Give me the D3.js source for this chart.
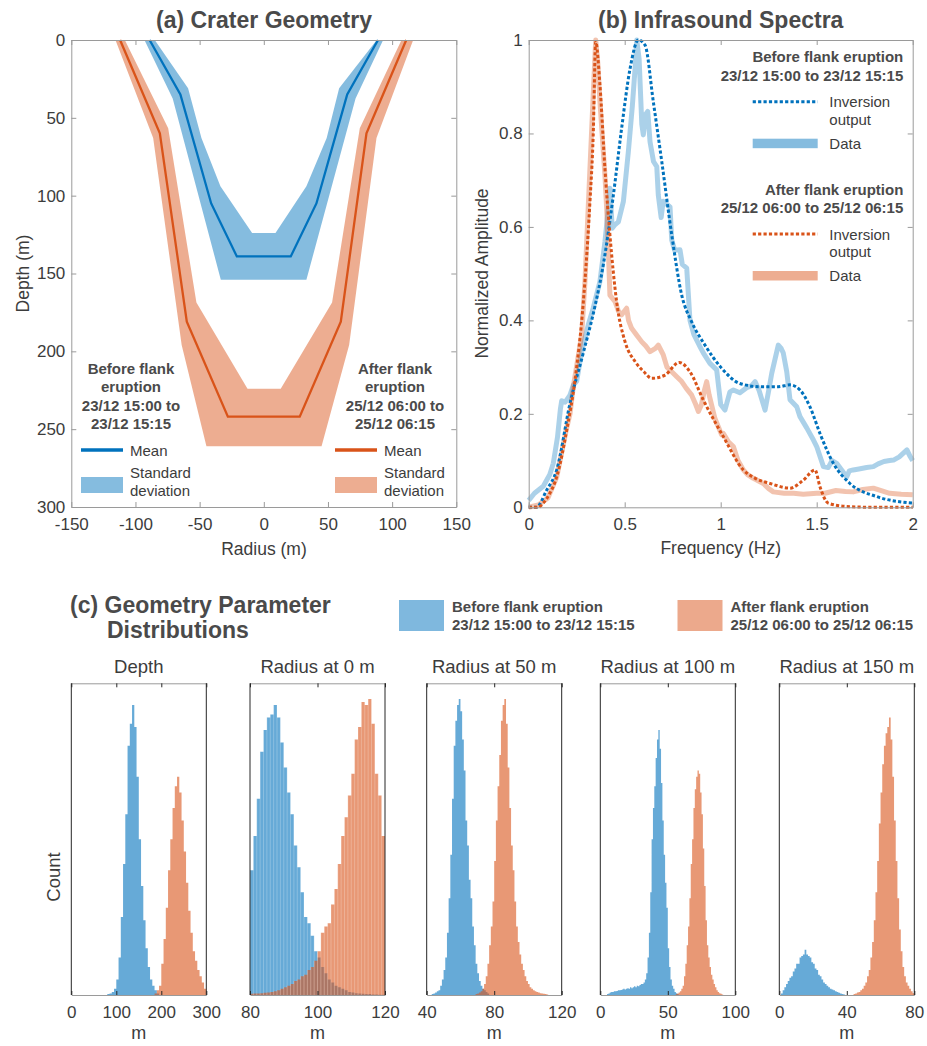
<!DOCTYPE html>
<html>
<head>
<meta charset="utf-8">
<script src="https://cdn.jsdelivr.net/npm/d3@7"></script>
<style>
  body { margin: 0; background: #fff; }
  svg { display: block; font-family: "Liberation Sans", Arial, Helvetica, sans-serif; }
</style>
</head>
<body>
<script>
// ---------- (a) crater geometry: radius (m) / depth (m) ----------
var meanBeforeR = [-89, -65, -41, -21, 21, 41, 65, 89];
var meanBeforeD = [0, 35, 105, 139, 139, 105, 35, 0];
var meanAfterR = [-112, -81, -60, -28, 28, 60, 80, 111];
var meanAfterD = [0, 60, 181, 242, 242, 181, 60, 0];
// standard deviation outlines: outer edge, then inner edge back to start
var sdBeforeR = [-93, -71, -33.5, 33.2, 71.5, 93, 88, 58.7, 49, 33.2, 9.1, -9.1, -33.8, -48.6, -59, -85];
var sdBeforeD = [0, 37.5, 154, 154, 37.5, 0, 0, 31, 63, 94, 124, 124, 94, 63, 31, 0];
var sdAfterR = [-115.6, -86.2, -64, -44.7, 45, 66.5, 87.8, 116.4, 107.3, 74.8, 53.2, 13.2, -12.7, -52.5, -74.5, -108.3];
var sdAfterD = [0, 63, 196, 261, 261, 196, 63, 0, 0, 56.7, 168.7, 224, 224, 168.7, 56.7, 0];

// ---------- (b) infrasound spectra ----------
var invBeforeF = [0, 0.04, 0.094, 0.146, 0.215, 0.284, 0.345, 0.389, 0.441, 0.484, 0.528, 0.571, 0.606, 0.649, 0.693, 0.745, 0.797, 0.849, 0.918, 1.0, 1.1, 1.205, 1.3, 1.361, 1.413, 1.465, 1.517, 1.587, 1.673, 1.812, 2.0];
var invBeforeA = [0, 0, 0.037, 0.08, 0.222, 0.33, 0.43, 0.52, 0.668, 0.811, 0.939, 1.0, 0.989, 0.868, 0.74, 0.583, 0.454, 0.397, 0.347, 0.3, 0.265, 0.258, 0.258, 0.262, 0.251, 0.215, 0.158, 0.094, 0.051, 0.023, 0.009];
var invAfterF = [0, 0.05, 0.076, 0.11, 0.146, 0.198, 0.241, 0.284, 0.319, 0.336, 0.349, 0.371, 0.397, 0.423, 0.458, 0.502, 0.554, 0.6, 0.641, 0.71, 0.784, 0.84, 0.909, 1.014, 1.118, 1.18, 1.257, 1.361, 1.43, 1.491, 1.517, 1.56, 1.65, 1.8, 2.0];
var invAfterA = [0, 0, 0.009, 0.03, 0.065, 0.165, 0.272, 0.437, 0.654, 0.797, 0.996, 0.904, 0.725, 0.583, 0.44, 0.354, 0.312, 0.29, 0.276, 0.283, 0.31, 0.29, 0.23, 0.151, 0.08, 0.062, 0.051, 0.041, 0.058, 0.08, 0.044, 0.009, 0.002, 0, 0];
var dataBeforeF = [0, 0.03, 0.076, 0.11, 0.128, 0.15, 0.165, 0.172, 0.19, 0.215, 0.233, 0.25, 0.276, 0.31, 0.336, 0.371, 0.397, 0.41, 0.423, 0.435, 0.45, 0.467, 0.493, 0.519, 0.54, 0.554, 0.563, 0.575, 0.589, 0.597, 0.608, 0.62, 0.632, 0.65, 0.667, 0.675, 0.69, 0.7, 0.736, 0.745, 0.76, 0.788, 0.8, 0.823, 0.84, 0.86, 0.892, 0.91, 0.944, 0.979, 1.0, 1.022, 1.048, 1.066, 1.1, 1.135, 1.16, 1.179, 1.2, 1.231, 1.25, 1.266, 1.3, 1.315, 1.326, 1.344, 1.361, 1.396, 1.413, 1.448, 1.483, 1.5, 1.535, 1.56, 1.58, 1.604, 1.63, 1.656, 1.67, 1.69, 1.72, 1.76, 1.795, 1.82, 1.85, 1.88, 1.9, 1.93, 1.97, 1.985, 2.0];
var dataBeforeA = [0.015, 0.03, 0.045, 0.07, 0.094, 0.15, 0.21, 0.228, 0.225, 0.24, 0.262, 0.27, 0.333, 0.39, 0.426, 0.483, 0.568, 0.62, 0.683, 0.597, 0.605, 0.611, 0.654, 0.761, 0.86, 0.939, 1.0, 0.96, 0.82, 0.797, 0.84, 0.847, 0.782, 0.74, 0.729, 0.668, 0.62, 0.655, 0.643, 0.572, 0.55, 0.551, 0.52, 0.512, 0.4, 0.37, 0.344, 0.33, 0.308, 0.294, 0.22, 0.208, 0.247, 0.251, 0.245, 0.256, 0.26, 0.269, 0.25, 0.208, 0.25, 0.287, 0.347, 0.34, 0.33, 0.29, 0.23, 0.215, 0.194, 0.17, 0.144, 0.13, 0.087, 0.085, 0.1, 0.094, 0.08, 0.065, 0.078, 0.08, 0.082, 0.085, 0.087, 0.093, 0.098, 0.1, 0.101, 0.108, 0.123, 0.11, 0.1];
var dataAfterF = [0, 0.05, 0.1, 0.146, 0.198, 0.215, 0.233, 0.241, 0.276, 0.293, 0.319, 0.336, 0.349, 0.36, 0.371, 0.397, 0.406, 0.415, 0.423, 0.45, 0.467, 0.484, 0.51, 0.52, 0.536, 0.56, 0.589, 0.61, 0.632, 0.66, 0.675, 0.69, 0.701, 0.72, 0.745, 0.77, 0.797, 0.82, 0.849, 0.87, 0.884, 0.9, 0.915, 0.927, 0.94, 0.97, 1.005, 1.014, 1.04, 1.066, 1.09, 1.118, 1.14, 1.17, 1.222, 1.25, 1.274, 1.33, 1.38, 1.43, 1.5, 1.543, 1.6, 1.65, 1.69, 1.74, 1.795, 1.84, 1.88, 1.94, 2.0];
var dataAfterA = [0, 0.005, 0.02, 0.065, 0.17, 0.2, 0.26, 0.28, 0.369, 0.483, 0.725, 0.882, 1.0, 0.95, 0.868, 0.711, 0.64, 0.55, 0.454, 0.44, 0.42, 0.412, 0.426, 0.4, 0.383, 0.37, 0.354, 0.345, 0.333, 0.34, 0.347, 0.335, 0.326, 0.3, 0.29, 0.28, 0.269, 0.255, 0.24, 0.22, 0.205, 0.22, 0.25, 0.269, 0.24, 0.19, 0.155, 0.158, 0.14, 0.13, 0.1, 0.08, 0.07, 0.062, 0.051, 0.04, 0.033, 0.03, 0.03, 0.028, 0.03, 0.03, 0.036, 0.034, 0.033, 0.038, 0.041, 0.035, 0.03, 0.028, 0.027];

// ---------- (c) histograms: bin start, bin width, heights (fraction of axis) ----------
var depthBefore = [0.003, 0.005, 0.01, 0.02, 0.05, 0.12, 0.25, 0.42, 0.58, 0.8, 0.87, 0.93, 0.86, 0.7, 0.5, 0.35, 0.24, 0.15, 0.09, 0.05, 0.03, 0.015, 0.005];
var depthAfter = [0.005, 0.015, 0.03, 0.1, 0.18, 0.28, 0.4, 0.5, 0.6, 0.67, 0.7, 0.65, 0.56, 0.46, 0.36, 0.27, 0.2, 0.14, 0.11, 0.08, 0.06, 0.04, 0.02];
var r0Before = [0.4, 0.51, 0.63, 0.78, 0.85, 0.89, 0.9, 0.93, 0.89, 0.81, 0.73, 0.65, 0.58, 0.48, 0.41, 0.33, 0.25, 0.23, 0.19, 0.14, 0.12, 0.09, 0.07, 0.05, 0.04, 0.03, 0.025, 0.02, 0.015, 0.01, 0.008, 0.006, 0.005, 0.004, 0.003, 0.003, 0.002, 0.002, 0.001, 0.001];
var r0After = [0.004, 0.005, 0.005, 0.006, 0.007, 0.008, 0.01, 0.012, 0.015, 0.02, 0.025, 0.03, 0.035, 0.045, 0.05, 0.06, 0.065, 0.08, 0.09, 0.11, 0.14, 0.2, 0.22, 0.23, 0.29, 0.34, 0.42, 0.51, 0.57, 0.64, 0.71, 0.82, 0.86, 0.94, 0.93, 0.95, 0.87, 0.71, 0.64, 0.51];
var r50Before = [0.003, 0.005, 0.008, 0.012, 0.015, 0.03, 0.05, 0.08, 0.12, 0.2, 0.31, 0.45, 0.63, 0.8, 0.88, 0.93, 0.95, 0.91, 0.82, 0.72, 0.56, 0.48, 0.37, 0.31, 0.22, 0.16, 0.1, 0.07, 0.045, 0.03, 0.02, 0.015, 0.01, 0.005];
var r50After = [0.003, 0.005, 0.008, 0.012, 0.02, 0.035, 0.06, 0.1, 0.16, 0.22, 0.3, 0.43, 0.56, 0.67, 0.77, 0.88, 0.93, 0.95, 0.87, 0.73, 0.6, 0.48, 0.4, 0.3, 0.22, 0.17, 0.13, 0.1, 0.08, 0.06, 0.045, 0.035, 0.025, 0.02, 0.015, 0.012, 0.01, 0.008, 0.006, 0.005, 0.004, 0.003, 0.002];
var r100Before = [0.003, 0.005, 0.008, 0.01, 0.01, 0.012, 0.012, 0.013, 0.015, 0.015, 0.016, 0.018, 0.02, 0.018, 0.02, 0.022, 0.02, 0.025, 0.022, 0.025, 0.028, 0.025, 0.03, 0.028, 0.032, 0.035, 0.035, 0.04, 0.05, 0.07, 0.12, 0.2, 0.33, 0.5, 0.6, 0.67, 0.76, 0.82, 0.85, 0.79, 0.68, 0.56, 0.45, 0.36, 0.28, 0.15, 0.09, 0.05, 0.03, 0.02, 0.01, 0.006, 0.003];
var r100After = [0.003, 0.005, 0.008, 0.012, 0.02, 0.03, 0.06, 0.1, 0.16, 0.22, 0.31, 0.42, 0.5, 0.6, 0.66, 0.7, 0.72, 0.71, 0.65, 0.58, 0.47, 0.35, 0.24, 0.16, 0.12, 0.09, 0.065, 0.05, 0.035, 0.025, 0.015, 0.01, 0.006, 0.004, 0.002];
var r150Before = [0.005, 0.015, 0.025, 0.035, 0.045, 0.055, 0.06, 0.075, 0.085, 0.1, 0.1, 0.12, 0.125, 0.13, 0.145, 0.13, 0.125, 0.12, 0.105, 0.1, 0.085, 0.08, 0.065, 0.06, 0.05, 0.04, 0.035, 0.03, 0.025, 0.02, 0.018, 0.015, 0.012, 0.01, 0.007, 0.005, 0.003, 0.002];
var r150After = [0.003, 0.005, 0.008, 0.01, 0.015, 0.02, 0.03, 0.04, 0.06, 0.08, 0.12, 0.17, 0.24, 0.33, 0.43, 0.55, 0.65, 0.74, 0.8, 0.84, 0.86, 0.89, 0.82, 0.7, 0.56, 0.43, 0.31, 0.21, 0.14, 0.09, 0.06, 0.04, 0.03, 0.02, 0.012, 0.006];

var histTitles = ["Depth", "Radius at 0 m", "Radius at 50 m", "Radius at 100 m", "Radius at 150 m"];
var histDomains = [[0, 300], [80, 120], [40, 120], [0, 100], [0, 80]];
var histTicks = [[0, 100, 200, 300], [80, 100, 120], [40, 80, 120], [0, 50, 100], [0, 40, 80]];
var histBefore = [[80, 5, depthBefore], [80, 1, r0Before], [43, 1, r50Before], [5, 1, r100Before], [1, 1, r150Before]];
var histAfter = [[185, 5, depthAfter], [80, 1, r0After], [69, 1, r50After], [56, 1, r100After], [44, 1, r150After]];

var BLUE = "#0072bd", RED = "#d95319";
var TXT = "#3c3c3c", TTL = "#4a4a4a", AX = "#9a9a9a", DARK = "#262626";

var svg = d3.select("body").append("svg").attr("width", 927).attr("height", 1046);
svg.append("rect").attr("width", 927).attr("height", 1046).attr("fill", "#fff");

function styleAxis(g, col) {
  g.attr("font-family", null).attr("font-size", null);
  g.select(".domain").attr("stroke", col);
  g.selectAll(".tick line").attr("stroke", col);
  g.selectAll(".tick text").attr("fill", TXT).style("font-size", "17px");
}

function label(x, y, s, o) {
  o = o || {};
  var t = svg.append("text").attr("x", x).attr("y", y).text(s)
    .attr("fill", o.fill || TXT).attr("font-size", (o.fs || 17.5) + "px")
    .attr("dominant-baseline", "central")
    .attr("text-anchor", o.anchor || "middle");
  if (o.bold) t.attr("font-weight", "bold");
  if (o.rot) t.attr("transform", "rotate(-90," + x + "," + y + ")");
  return t;
}

function frame(g, x, y, w, h, xt, yt) {
  var b = g.append("g").attr("transform", "translate(0," + h + ")")
    .call(d3.axisBottom(x).tickValues(xt).tickSize(-5).tickSizeOuter(0).tickPadding(11).tickFormat(String));
  var t = g.append("g")
    .call(d3.axisTop(x).tickValues(xt).tickSize(-5).tickSizeOuter(0).tickFormat(""));
  var l = g.append("g")
    .call(d3.axisLeft(y).tickValues(yt).tickSize(-5).tickSizeOuter(0).tickPadding(6).tickFormat(String));
  var r = g.append("g").attr("transform", "translate(" + w + ",0)")
    .call(d3.axisRight(y).tickValues(yt).tickSize(-5).tickSizeOuter(0).tickFormat(""));
  [b, t, l, r].forEach(function (s) { styleAxis(s, AX); });
}

function pairs(a, b) { return a.map(function (v, i) { return [v, b[i]]; }); }

// ================= (a) =================
var aW = 385, aH = 467;
var ga = svg.append("g").attr("transform", "translate(71.3,40)");
var xa = d3.scaleLinear().domain([-150, 150]).range([0, aW]);
var ya = d3.scaleLinear().domain([0, 300]).range([0, aH]);
var lineA = d3.line().x(function (d) { return xa(d[0]); }).y(function (d) { return ya(d[1]); });

ga.append("path").attr("d", lineA(pairs(sdAfterR, sdAfterD)) + "Z").attr("fill", RED).attr("fill-opacity", 0.48);
ga.append("path").attr("d", lineA(pairs(sdBeforeR, sdBeforeD)) + "Z").attr("fill", BLUE).attr("fill-opacity", 0.48);
ga.append("path").attr("d", lineA(pairs(meanAfterR, meanAfterD))).attr("fill", "none").attr("stroke", RED).attr("stroke-width", 2.3);
ga.append("path").attr("d", lineA(pairs(meanBeforeR, meanBeforeD))).attr("fill", "none").attr("stroke", BLUE).attr("stroke-width", 2.3);

frame(ga, xa, ya, aW, aH, [-150, -100, -50, 0, 50, 100, 150], [0, 50, 100, 150, 200, 250, 300]);

label(264, 20, "(a)  Crater Geometry", { fs: 23, bold: true, fill: TTL });
label(264, 549, "Radius (m)");
label(23, 273.5, "Depth (m)", { rot: true });

// legends in (a)
var legA = [
  { cx: 131, x0: 81, lines: ["Before flank", "eruption", "23/12 15:00 to", "23/12 15:15"], col: BLUE },
  { cx: 395, x0: 335, lines: ["After flank", "eruption", "25/12 06:00 to", "25/12 06:15"], col: RED }
];
legA.forEach(function (L) {
  L.lines.forEach(function (s, i) { label(L.cx, 368.3 + i * 18.4, s, { fs: 15, bold: true, fill: TTL }); });
  svg.append("line").attr("x1", L.x0).attr("x2", L.x0 + 42).attr("y1", 450).attr("y2", 450)
    .attr("stroke", L.col).attr("stroke-width", 3.5);
  label(L.x0 + 49, 450, "Mean", { fs: 15, anchor: "start" });
  svg.append("rect").attr("x", L.x0).attr("y", 477).attr("width", 42).attr("height", 16)
    .attr("fill", L.col).attr("fill-opacity", 0.48);
  label(L.x0 + 49, 472.5, "Standard", { fs: 15, anchor: "start" });
  label(L.x0 + 49, 490, "deviation", { fs: 15, anchor: "start" });
});

// ================= (b) =================
var bW = 384, bH = 467.3;
var gb = svg.append("g").attr("transform", "translate(528.7,40)");
var xb = d3.scaleLinear().domain([0, 2]).range([0, bW]);
var yb = d3.scaleLinear().domain([0, 1]).range([bH, 0]);
var lineB = d3.line().x(function (d) { return xb(d[0]); }).y(function (d) { return yb(d[1]); });
var smoothB = d3.line().curve(d3.curveMonotoneX).x(function (d) { return xb(d[0]); }).y(function (d) { return yb(d[1]); });

gb.append("path").attr("d", lineB(pairs(dataBeforeF, dataBeforeA))).attr("fill", "none")
  .attr("stroke", BLUE).attr("stroke-opacity", 0.33).attr("stroke-width", 5).attr("stroke-linejoin", "round");
gb.append("path").attr("d", lineB(pairs(dataAfterF, dataAfterA))).attr("fill", "none")
  .attr("stroke", RED).attr("stroke-opacity", 0.35).attr("stroke-width", 5).attr("stroke-linejoin", "round");
gb.append("path").attr("d", smoothB(pairs(invBeforeF, invBeforeA))).attr("fill", "none")
  .attr("stroke", BLUE).attr("stroke-width", 3).attr("stroke-dasharray", "3.2 2.2");
gb.append("path").attr("d", smoothB(pairs(invAfterF, invAfterA))).attr("fill", "none")
  .attr("stroke", RED).attr("stroke-width", 3).attr("stroke-dasharray", "3.2 2.2");

frame(gb, xb, yb, bW, bH, [0, 0.5, 1, 1.5, 2], [0, 0.2, 0.4, 0.6, 0.8, 1]);

label(720.7, 20, "(b)  Infrasound Spectra", { fs: 23, bold: true, fill: TTL });
label(720.7, 548, "Frequency (Hz)");
label(482, 273.5, "Normalized Amplitude", { rot: true });

var legB = [
  { y: 56.7, t1: "Before flank eruption", t2: "23/12 15:00 to 23/12 15:15", col: BLUE },
  { y: 189, t1: "After flank eruption", t2: "25/12 06:00 to 25/12 06:15", col: RED }
];
legB.forEach(function (L) {
  label(903.3, L.y, L.t1, { fs: 15, bold: true, fill: TTL, anchor: "end" });
  label(903.3, L.y + 18.4, L.t2, { fs: 15, bold: true, fill: TTL, anchor: "end" });
  svg.append("line").attr("x1", 752.7).attr("x2", 817.7).attr("y1", L.y + 45).attr("y2", L.y + 45)
    .attr("stroke", L.col).attr("stroke-width", 3).attr("stroke-dasharray", "3.2 2.2");
  label(829.3, L.y + 45, "Inversion", { fs: 15, anchor: "start" });
  label(829.3, L.y + 62.6, "output", { fs: 15, anchor: "start" });
  svg.append("rect").attr("x", 752.7).attr("y", L.y + 82).attr("width", 65).attr("height", 9.5)
    .attr("fill", L.col).attr("fill-opacity", 0.48);
  label(829.3, L.y + 86.7, "Data", { fs: 15, anchor: "start" });
});

// ================= (c) =================
label(70, 605, "(c) Geometry Parameter", { fs: 23, bold: true, fill: TTL, anchor: "start" });
label(107, 629.5, "Distributions", { fs: 23, bold: true, fill: TTL, anchor: "start" });
[{ x: 399, col: BLUE, t1: "Before flank eruption", t2: "23/12 15:00 to 23/12 15:15" },
 { x: 677.5, col: RED, t1: "After flank eruption", t2: "25/12 06:00 to 25/12 06:15" }].forEach(function (L) {
  svg.append("rect").attr("x", L.x).attr("y", 600).attr("width", 45).attr("height", 31)
    .attr("fill", L.col).attr("fill-opacity", 0.5);
  label(L.x + 53, 606, L.t1, { fs: 15, bold: true, fill: TTL, anchor: "start" });
  label(L.x + 53, 624.3, L.t2, { fs: 15, bold: true, fill: TTL, anchor: "start" });
});

var hX0 = [71.3, 250, 426.7, 600.3, 779.3], hW = 135, hTop = 683.3, hH = 311.7;
histTitles.forEach(function (title, k) {
  var g = svg.append("g").attr("transform", "translate(" + hX0[k] + "," + hTop + ")");
  var x = d3.scaleLinear().domain(histDomains[k]).range([0, hW]);
  var y = d3.scaleLinear().domain([0, 1]).range([hH, 0]);
  var step = d3.area().curve(d3.curveStepAfter)
    .x(function (d) { return x(d[0]); }).y0(y(0)).y1(function (d) { return y(d[1]); });
  [[histBefore[k], BLUE], [histAfter[k], RED]].forEach(function (p) {
    var start = p[0][0], bw = p[0][1], vals = p[0][2];
    var pts = vals.map(function (v, i) { return [start + i * bw, v]; });
    pts.push([start + vals.length * bw, vals[vals.length - 1]]);
    g.append("path").attr("d", step(pts)).attr("fill", p[1]).attr("fill-opacity", 0.6);
    // light bin edges where the bins are wide enough to show them
    if (x(start + bw) - x(start) >= 3) {
      g.append("g").selectAll("line").data(vals).join("line")
        .attr("x1", function (d, i) { return x(start + i * bw); })
        .attr("x2", function (d, i) { return x(start + i * bw); })
        .attr("y1", y(0))
        .attr("y2", function (d, i) { return y(Math.max(d, i > 0 ? vals[i - 1] : 0)); })
        .attr("stroke", "#fff").attr("stroke-opacity", 0.4).attr("stroke-width", 0.6);
    }
  });
  var b = g.append("g").attr("transform", "translate(0," + hH + ")")
    .call(d3.axisBottom(x).tickValues(histTicks[k]).tickSize(-4).tickSizeOuter(0).tickPadding(11).tickFormat(String));
  var t = g.append("g")
    .call(d3.axisTop(x).tickValues(histTicks[k]).tickSize(-4).tickSizeOuter(0).tickFormat(""));
  [b, t].forEach(function (s) { styleAxis(s, AX); s.selectAll(".tick line").attr("stroke", DARK); });
  g.append("line").attr("x1", 0).attr("x2", 0).attr("y1", 0).attr("y2", hH).attr("stroke", DARK);
  g.append("line").attr("x1", hW).attr("x2", hW).attr("y1", 0).attr("y2", hH).attr("stroke", DARK);
  label(hX0[k] + hW / 2, 666, title, { fs: 18.5 });
  label(hX0[k] + hW / 2, 1033, "m", { fs: 18 });
});
label(53, 877, "Count", { rot: true, fs: 18.5 });
</script>
</body>
</html>
